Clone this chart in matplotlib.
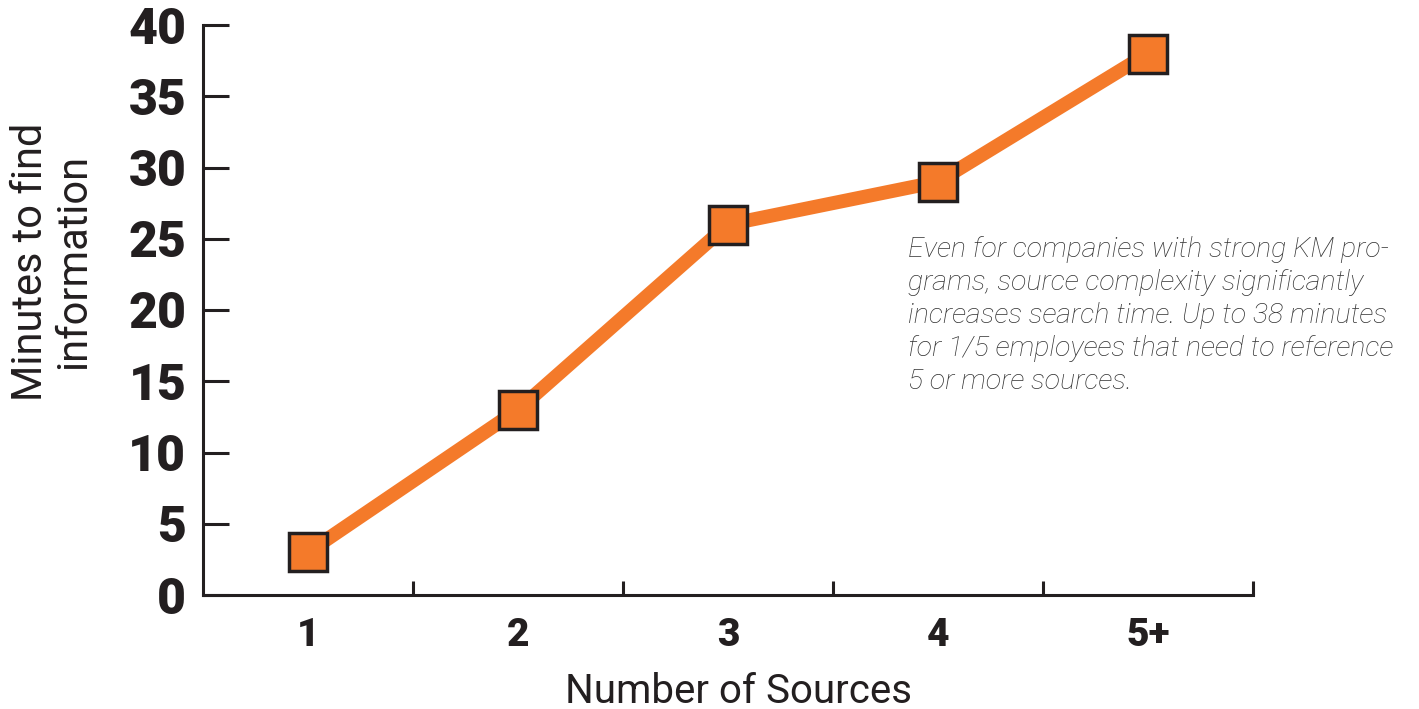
import matplotlib.pyplot as plt
from matplotlib.ticker import FixedLocator

# Average minutes to find information by number of sources consulted
categories = ["1", "2", "3", "4", "5+"]
minutes = [3, 13, 26, 29, 38]
y_ticks = [0, 5, 10, 15, 20, 25, 30, 35, 40]

note = ("Even for companies with strong KM pro-\n"
        "grams, source complexity significantly\n"
        "increases search time. Up to 38 minutes\n"
        "for 1/5 employees that need to reference\n"
        "5 or more sources.")

ink = "#231f20"
orange = "#f47a2a"

fig = plt.figure(figsize=(14.19, 7.09), dpi=100)
ax = fig.add_axes([203 / 1419, 1 - 595 / 709, 1050 / 1419, 570 / 709])

x = list(range(1, len(categories) + 1))
ax.plot(x, minutes, color=orange, linewidth=10, zorder=2, solid_capstyle="butt")
ax.plot(x, minutes, linestyle="none", marker="s", markersize=28,
        markerfacecolor=orange, markeredgecolor=ink, markeredgewidth=2.5,
        zorder=3)

ax.set_xlim(0.5, 5.5)
ax.set_ylim(0, 40)

for side in ("top", "right"):
    ax.spines[side].set_visible(False)
for side in ("left", "bottom"):
    ax.spines[side].set_linewidth(2.2)
    ax.spines[side].set_color(ink)

# tick marks sit on category boundaries, labels on category centres
ax.xaxis.set_major_locator(FixedLocator([1.5, 2.5, 3.5, 4.5, 5.5]))
ax.xaxis.set_minor_locator(FixedLocator(x))
ax.set_xticklabels([])
ax.set_xticklabels(categories, minor=True)
ax.tick_params(axis="x", which="major", direction="in", length=10,
               width=2.2, color=ink)
ax.tick_params(axis="x", which="minor", length=0, pad=16, labelsize=28,
               labelcolor=ink)
for lbl in ax.get_xticklabels(minor=True):
    lbl.set_fontweight("black")
    lbl.set_family("Roboto")

ax.set_yticks(y_ticks)
ax.tick_params(axis="y", direction="in", length=19, width=2.2, color=ink,
               pad=12, labelsize=36, labelcolor=ink)
for lbl in ax.get_yticklabels():
    lbl.set_fontweight("black")
    lbl.set_family("Roboto")

ax.set_xlabel("Number of Sources", fontsize=29, color=ink, labelpad=8,
              family="Roboto")
ax.xaxis.set_label_coords(0.51, -0.135)
ax.set_ylabel("Minutes to find\ninformation", fontsize=30, color=ink,
              family="Roboto", linespacing=1.05)
ax.yaxis.set_label_coords(-0.104, 0.585)

fig.text(908 / 1419, 1 - 236 / 709, note, ha="left", va="top",
         fontsize=20.5, family="Roboto", style="italic", fontweight="light",
         color="#333333", linespacing=1.28)

fig.savefig("out.png", dpi=100)
